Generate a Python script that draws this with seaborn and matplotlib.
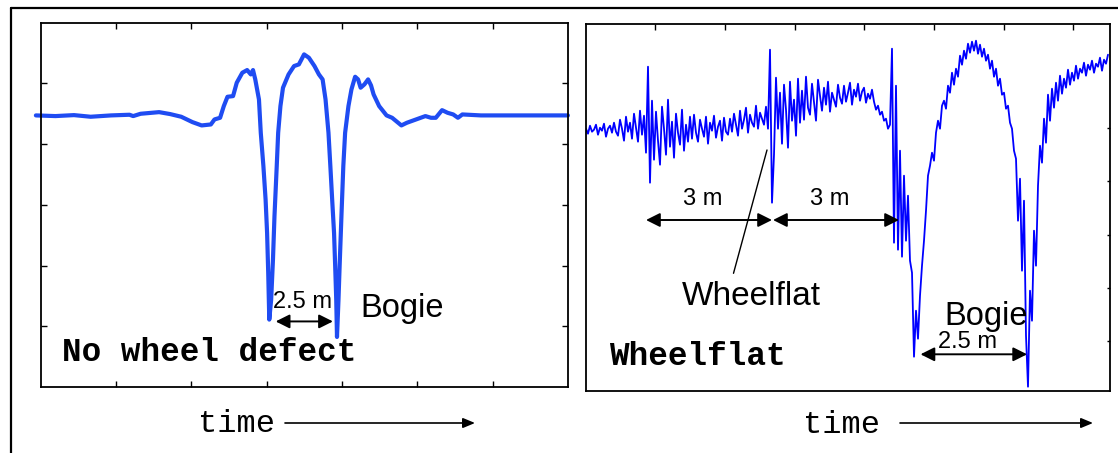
import numpy as np
import pandas as pd
import matplotlib
matplotlib.use("Agg")
import matplotlib.pyplot as plt
import seaborn as sns
from matplotlib.lines import Line2D

# ---- left panel: healthy wheelset, bogie passage (time / level in tick units)
healthy_time = [
    -0.064, 0.196, 0.442, 0.663, 0.933, 1.179, 1.228, 1.326, 1.572, 1.719,
    1.866, 2.014, 2.137, 2.259, 2.308, 2.382, 2.431, 2.480, 2.554, 2.603,
    2.677, 2.741, 2.790, 2.819, 2.849, 2.898, 2.922, 2.957, 2.986, 3.006,
    3.021, 3.035, 3.060, 3.084, 3.104, 3.134, 3.153, 3.183, 3.217, 3.291,
    3.364, 3.428, 3.463, 3.497, 3.561, 3.635, 3.694, 3.743, 3.782, 3.821,
    3.846, 3.870, 3.895, 3.910, 3.924, 3.934, 3.954, 3.969, 3.993, 4.018,
    4.042, 4.086, 4.126, 4.175, 4.214, 4.248, 4.298, 4.347, 4.386, 4.420,
    4.494, 4.592, 4.666, 4.789, 4.862, 4.985, 5.108, 5.182, 5.246, 5.329,
    5.403, 5.477, 5.540, 5.599, 5.845, 6.336, 7.000,
]
healthy_level = [
    4.473, 4.462, 4.478, 4.451, 4.473, 4.484, 4.462, 4.500, 4.527, 4.495,
    4.451, 4.363, 4.308, 4.324, 4.407, 4.434, 4.626, 4.780, 4.791, 5.011,
    5.176, 5.220, 5.148, 5.220, 5.066, 4.736, 4.187, 3.637, 3.088, 2.538,
    1.879, 1.110, 1.440, 2.099, 2.813, 3.637, 4.187, 4.626, 4.929, 5.148,
    5.286, 5.313, 5.396, 5.478, 5.423, 5.286, 5.148, 5.066, 4.736, 4.187,
    3.637, 3.088, 2.538, 1.989, 1.440, 0.824, 1.440, 1.989, 2.813, 3.637,
    4.187, 4.626, 4.901, 5.110, 5.066, 4.929, 4.984, 5.066, 4.967, 4.819,
    4.626, 4.473, 4.434, 4.308, 4.352, 4.407, 4.462, 4.434, 4.434, 4.560,
    4.516, 4.489, 4.434, 4.489, 4.473, 4.473, 4.473,
]

# ---- right panel: wheel with a flat spot, level sampled every FLAT_DT
FLAT_DT = 2
flat_level = [
    # quiet approach
    262, 257, 265, 259, 261, 266, 256, 263, 260, 267, 254, 262, 265, 258, 268, 259,
    255, 271, 262, 250, 274, 259, 268, 252, 277, 263, 249, 280, 256, 275,
    # first wheel impact
    238, 324, 208,
    290, 231, 279, 250, 226, 284, 262, 236, 291, 244, 269, 233, 277, 258, 246, 281,
    240, 266, 249, 274,
    252, 276, 258, 249, 271, 262, 254, 274, 247, 268, 260, 275, 253, 264, 270, 250,
    273, 259, 256, 272,
    259, 277, 266, 255, 280, 262, 271, 283, 258, 276, 268, 264, 285, 262, 278, 272,
    266, 284,
    # wheel flat impact
    262, 341, 188,
    236, 313, 262, 298, 247, 306, 281, 243, 309, 270, 291, 255, 312, 268,
    300, 271, 314, 283, 276, 307, 289, 270, 311, 295, 280, 303, 286, 309, 279, 298,
    291, 284, 306, 293, 287,
    305, 289, 298, 308, 286, 301, 294, 307, 290, 299, 303, 288, 297, 292, 301,
    289, 281, 285, 276, 279, 270, 272, 262, 266,
    # bogie: first axle
    342, 148, 305, 141, 240, 134, 215, 150, 195, 130, 118, 34, 80, 52, 95, 125,
    150, 180, 215, 225, 238, 230, 258, 270, 262, 285, 290, 282, 305, 298, 318, 306,
    322, 314, 335, 326, 340, 332, 347, 338, 349, 340, 350, 337, 346, 334, 342, 330,
    336, 322, 330, 314, 322, 305, 312, 296, 298, 282, 285,
    # bogie: second axle
    268, 262, 240, 232, 170, 212, 120, 190, 55, 4, 100, 70, 160, 125, 205, 245,
    228, 272, 248, 296, 270, 302, 283, 308, 290, 315, 297, 312, 303, 321, 306, 318,
    310, 325, 312, 322, 318, 328, 315, 326, 321, 330, 318, 327, 324, 333, 320, 331,
    327, 336,
]

sns.set_style("white")
plt.rcParams["font.family"] = ["Liberation Sans", "DejaVu Sans"]
plt.rcParams["text.color"] = "black"

W, H = 1118, 453
fig = plt.figure(figsize=(W / 100, H / 100), dpi=100)
fig.patch.set_facecolor("white")

ax1 = fig.add_axes([40.7 / W, 1 - 387 / H, 527.2 / W, 364.3 / H])
ax2 = fig.add_axes([585.5 / W, 1 - 390.7 / H, 524 / W, 366.4 / H])

# healthy signal
df_h = pd.DataFrame({"t": healthy_time, "v": healthy_level})
sns.lineplot(data=df_h, x="t", y="v", ax=ax1, sort=False, estimator=None,
             color="#1f4cf2", linewidth=3.0, clip_on=False)

# wheelflat signal
flat_time = np.arange(len(flat_level)) * FLAT_DT + 0.5
df_f = pd.DataFrame({"t": flat_time, "v": flat_level})
sns.lineplot(data=df_f, x="t", y="v", ax=ax2, sort=False, estimator=None,
             color="#0000ff", linewidth=1.3)

for ax in (ax1, ax2):
    ax.set_xlabel("")
    ax.set_ylabel("")
    for s in ax.spines.values():
        s.set_color("black")
        s.set_linewidth(1.3)
        s.set_visible(True)

ax1.set_xlim(0, 7)
ax1.set_ylim(0, 6)
ax1.set_xticks(range(1, 7))
ax1.set_yticks(range(1, 6))
ax1.tick_params(direction="in", length=4, width=1, color="black",
                top=True, bottom=True, left=True, right=True,
                labelbottom=False, labelleft=False)

ax2.set_xlim(0, 524)
ax2.set_ylim(0, 366.4)
ax2.set_xticks([69.7, 139.4, 209.1, 278.8, 348.5, 418.2, 487.9])
ax2.set_yticks([50, 103, 156, 210, 263])
ax2.tick_params(axis="x", direction="in", length=4, width=1, color="black",
                top=True, bottom=False, labelbottom=False)
ax2.tick_params(axis="y", direction="in", length=2, width=1, color="black",
                left=False, right=True, labelleft=False)

big_arrow = dict(arrowstyle="<|-|>,head_length=0.6,head_width=0.3",
                 color="black", lw=1.4, mutation_scale=14,
                 shrinkA=0, shrinkB=0)

# left panel annotations
ax1.annotate("", xy=(3.12, 1.08), xytext=(3.88, 1.08), arrowprops=big_arrow)
ax1.text(3.09, 1.30, "2.5 m", fontsize=17, ha="left", va="baseline")
ax1.text(4.25, 1.15, "Bogie", fontsize=23.5, ha="left", va="baseline")
ax1.text(0.28, 0.42, "No wheel defect", family="Liberation Mono",
         fontweight="bold", fontsize=23.5, ha="left", va="baseline")

# right panel annotations
ax2.annotate("", xy=(60.5, 170.7), xytext=(186.5, 170.7), arrowprops=big_arrow)
ax2.annotate("", xy=(187.5, 170.7), xytext=(313.5, 170.7), arrowprops=big_arrow)
ax2.text(117, 186, "3 m", fontsize=17, ha="center", va="baseline")
ax2.text(244.5, 186, "3 m", fontsize=17, ha="center", va="baseline")
ax2.plot([181.5, 148], [240.7, 117.4], color="black", lw=1.0)
ax2.text(96.5, 85.7, "Wheelflat", fontsize=24, ha="left", va="baseline")
ax2.text(359, 65.7, "Bogie", fontsize=23.5, ha="left", va="baseline")
ax2.text(352, 42.7, "2.5 m", fontsize=17, ha="left", va="baseline")
ax2.annotate("", xy=(335, 36.4), xytext=(441.6, 36.4), arrowprops=big_arrow)
ax2.text(23.5, 25.7, "Wheelflat", family="Liberation Mono",
         fontweight="bold", fontsize=23.5, ha="left", va="baseline")

# time axes captions below the panels
small_arrow = dict(arrowstyle="-|>,head_length=0.6,head_width=0.25",
                   color="black", lw=1.2, mutation_scale=12,
                   shrinkA=0, shrinkB=0)
fig.text(198 / W, 1 - 432 / H, "time", family="Liberation Mono",
         fontsize=23, ha="left", va="baseline")
fig.text(803 / W, 1 - 433 / H, "time", family="Liberation Mono",
         fontsize=23, ha="left", va="baseline")
ax1.annotate("", xy=(475 / W, 1 - 423 / H), xytext=(285 / W, 1 - 423 / H),
             xycoords="figure fraction", textcoords="figure fraction",
             arrowprops=small_arrow)
ax2.annotate("", xy=(1093 / W, 1 - 423 / H), xytext=(900 / W, 1 - 423 / H),
             xycoords="figure fraction", textcoords="figure fraction",
             arrowprops=small_arrow)

# outer frame
fig.add_artist(Line2D([11 / W, 11 / W], [0, 1 - 8 / H], transform=fig.transFigure,
                      color="black", lw=1.6))
fig.add_artist(Line2D([11 / W, 1], [1 - 8 / H, 1 - 8 / H], transform=fig.transFigure,
                      color="black", lw=1.6))

fig.savefig("out.png", dpi=100, facecolor="white")
